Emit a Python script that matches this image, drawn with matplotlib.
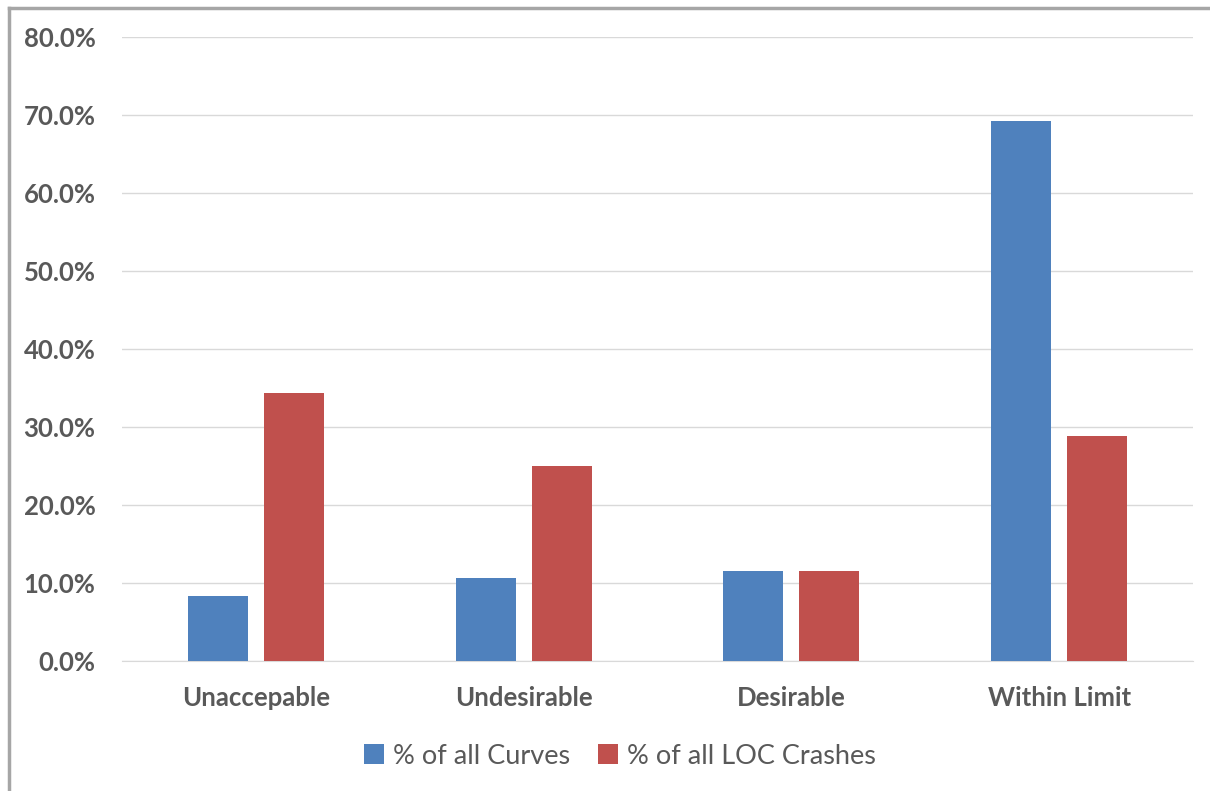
import numpy as np
import matplotlib.pyplot as plt
from matplotlib.lines import Line2D
from matplotlib.ticker import FuncFormatter

categories = ["Unaccepable", "Undesirable", "Desirable", "Within Limit"]
pct_curves = [8.3, 10.6, 11.5, 69.2]
pct_loc_crashes = [34.4, 25.0, 11.5, 28.8]
series_names = ["% of all Curves", "% of all LOC Crashes"]

blue = "#4F81BD"
red = "#C0504D"
text_gray = "#595959"

plt.rcParams['font.family'] = ['Lato', 'DejaVu Sans']

fig = plt.figure(figsize=(12.1, 7.91), dpi=100)
ax = fig.add_axes([122 / 1210, 1 - 661 / 791, (1193 - 122) / 1210, (661 - 37) / 791])

x = np.arange(len(categories))
width = 0.224
offset = 0.142
ax.bar(x - offset, pct_curves, width, color=blue, label=series_names[0], zorder=3)
ax.bar(x + offset, pct_loc_crashes, width, color=red, label=series_names[1], zorder=3)

ax.set_xlim(-0.5, len(categories) - 0.5)
ax.set_ylim(0, 80)
ax.set_yticks(np.arange(0, 81, 10))
ax.yaxis.set_major_formatter(FuncFormatter(lambda v, p: f"{v:.1f}%"))
ax.grid(axis='y', color="#D9D9D9", linewidth=1, zorder=0)
ax.set_axisbelow(True)

for s in ['top', 'right', 'left']:
    ax.spines[s].set_visible(False)
ax.spines['bottom'].set_color("#D9D9D9")
ax.tick_params(axis='both', length=0)
ax.tick_params(axis='y', pad=19)
ax.tick_params(axis='x', pad=18)
ax.set_xticks(x)
ax.set_xticklabels(categories)
for lab in ax.get_yticklabels() + ax.get_xticklabels():
    lab.set_fontsize(18.5)
    lab.set_fontweight('bold')
    lab.set_color(text_gray)

leg = fig.legend(loc='center', bbox_to_anchor=(620 / 1210, 1 - 756 / 791), ncol=2,
                 frameon=False, fontsize=19.5, handlelength=0.75, handleheight=0.75,
                 handletextpad=0.35, columnspacing=1.0)
for t in leg.get_texts():
    t.set_color(text_gray)

# outer border (top and left edges of the original frame)
fig.add_artist(Line2D([9 / 1210, 9 / 1210], [0, 1 - 8 / 791], transform=fig.transFigure,
                      color="#A6A6A6", linewidth=2.5))
fig.add_artist(Line2D([9 / 1210, 1], [1 - 8 / 791, 1 - 8 / 791], transform=fig.transFigure,
                      color="#A6A6A6", linewidth=2.5))

fig.savefig("out.png", dpi=100)
